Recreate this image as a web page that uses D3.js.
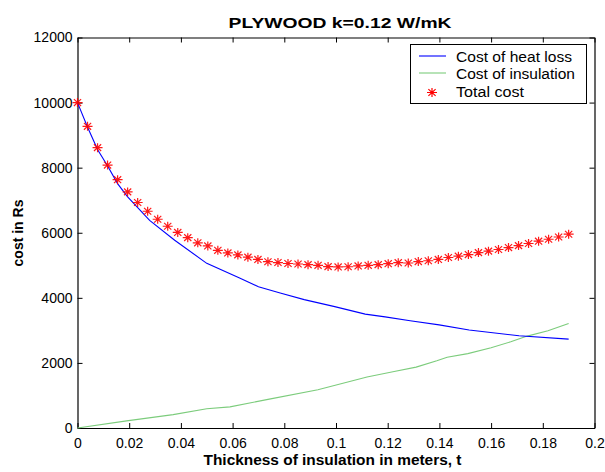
<!DOCTYPE html>
<html><head><meta charset="utf-8">
<script src="https://cdn.jsdelivr.net/npm/d3@7"></script>
<style>body{margin:0;background:#fff}svg{display:block}text{font-family:Arial,"Liberation Sans",sans-serif}</style>
</head><body><svg id="c" width="605" height="472"></svg>
<script>
// Total cost markers (t in meters, cost in Rs)
const tTotal = [0,0.00388,0.00776,0.01163,0.01551,0.01939,0.02327,0.02714,0.03102,0.0349,0.03878,0.04265,0.04653,0.05041,0.05429,0.05816,0.06204,0.06592,0.0698,0.07367,0.07755,0.08143,0.08531,0.08918,0.09306,0.09694,0.10082,0.10469,0.10857,0.11245,0.11633,0.1202,0.12408,0.12796,0.13184,0.13571,0.13959,0.14347,0.14735,0.15122,0.1551,0.15898,0.16286,0.16673,0.17061,0.17449,0.17837,0.18224,0.18612,0.19];
const totalCost = [10000,9270,8615,8080,7630,7255,6930,6660,6415,6200,6010,5850,5690,5595,5460,5380,5320,5250,5180,5110,5085,5055,5040,5020,5000,4960,4950,4955,4980,5000,5020,5050,5080,5070,5115,5140,5180,5240,5280,5330,5390,5435,5485,5545,5605,5670,5740,5800,5870,5955];
// Cost of heat loss
const tHeat = [0,0.0039,0.0078,0.0116,0.0155,0.0194,0.0279,0.0376,0.05,0.0627,0.07,0.0784,0.0877,0.0995,0.1113,0.119,0.1287,0.1399,0.1515,0.1708,0.19];
const heatCost = [10000,9240,8550,8060,7510,7100,6380,5770,5060,4610,4340,4150,3945,3730,3500,3416,3295,3170,3010,2833,2730];
// Cost of insulation
const tIns = [0,0.019,0.037,0.05,0.059,0.0737,0.093,0.112,0.1225,0.131,0.139,0.143,0.151,0.16,0.1676,0.174,0.182,0.19];
const insCost = [0,220,410,590,650,880,1175,1565,1735,1870,2065,2175,2285,2465,2649,2824,2987,3214];
// Ticks and labels
const xTicks = [0,0.02,0.04,0.06,0.08,0.1,0.12,0.14,0.16,0.18,0.2];
const yTicks = [0,2000,4000,6000,8000,10000,12000];
const legendLabels = ["Cost of heat loss","Cost of insulation","Total cost"];
const titleText = "PLYWOOD k=0.12 W/mK";
const xLabelText = "Thickness of insulation in meters, t";
const yLabelText = "cost in Rs";

const L = 77.5, R = 594.5, T = 37.5, B = 428;
const svg = d3.select("#c");
const x = d3.scaleLinear().domain([0,0.2]).range([L,R]);
const y = d3.scaleLinear().domain([0,12000]).range([B,T]);

// Axes (ticks inside, box on)
const fmt = d => d3.format("~g")(d);
const tickLen = 5;
const gxB = svg.append("g").attr("transform",`translate(0,${B})`)
  .call(d3.axisBottom(x).tickValues(xTicks).tickFormat(fmt).tickSizeInner(-tickLen).tickSizeOuter(0).tickPadding(10));
const gxT = svg.append("g").attr("transform",`translate(0,${T})`)
  .call(d3.axisTop(x).tickValues(xTicks).tickFormat("").tickSizeInner(-tickLen).tickSizeOuter(0));
const gyL = svg.append("g").attr("transform",`translate(${L},0)`)
  .call(d3.axisLeft(y).tickValues(yTicks).tickFormat(d=>d).tickSizeInner(-tickLen).tickSizeOuter(0).tickPadding(5));
const gyR = svg.append("g").attr("transform",`translate(${R},0)`)
  .call(d3.axisRight(y).tickValues(yTicks).tickFormat("").tickSizeInner(-tickLen).tickSizeOuter(0));
[gxB,gxT,gyL,gyR].forEach(g=>{
  g.select(".domain").attr("stroke","#000").attr("stroke-width",1.2);
  g.selectAll(".tick line").attr("stroke","#000");
  g.selectAll("text").attr("fill","#000").attr("font-size",14).attr("font-family","Arial, 'Liberation Sans', sans-serif");
});
gxB.selectAll("text").attr("dy","0.71em");

// Lines
const line = d3.line().x(d=>x(d[0])).y(d=>y(d[1]));
svg.append("path").datum(tIns.map((t,i)=>[t,insCost[i]]))
  .attr("d",line).attr("fill","none").attr("stroke","#7ccc7c").attr("stroke-width",1.1);
svg.append("path").datum(tHeat.map((t,i)=>[t,heatCost[i]]))
  .attr("d",line).attr("fill","none").attr("stroke","#0000ff").attr("stroke-width",1.1);

// Star markers
function starPath(cx,cy){
  const h=5, v=4.5, dx=3.6, dy=3.4;
  return `M${cx-h},${cy}L${cx+h},${cy}M${cx},${cy-v}L${cx},${cy+v}`+
         `M${cx-dx},${cy-dy}L${cx+dx},${cy+dy}M${cx-dx},${cy+dy}L${cx+dx},${cy-dy}`;
}
svg.append("g").selectAll("path").data(tTotal.map((t,i)=>[t,totalCost[i]])).join("path")
  .attr("d",d=>starPath(x(d[0]),y(d[1])))
  .attr("fill","none").attr("stroke","#ff0000").attr("stroke-width",1.2).attr("stroke-opacity",0.9);

// Title & labels
svg.append("text").attr("x",340).attr("y",27.5).attr("text-anchor","middle")
  .attr("font-size",15.5).attr("font-weight","bold").attr("textLength",223).attr("lengthAdjust","spacingAndGlyphs")
  .text(titleText);
svg.append("text").attr("x",332.5).attr("y",465).attr("text-anchor","middle")
  .attr("font-size",14).attr("font-weight","bold").attr("textLength",258).attr("lengthAdjust","spacingAndGlyphs")
  .text(xLabelText);
svg.append("text").attr("transform","translate(22.5,233) rotate(-90)").attr("text-anchor","middle")
  .attr("font-size",14).attr("font-weight","bold").text(yLabelText);

// Legend
const lg = svg.append("g");
lg.append("rect").attr("x",410.5).attr("y",44.5).attr("width",176).attr("height",59)
  .attr("fill","#fff").attr("stroke","#000").attr("stroke-width",1);
const ly = [56,73,91];
const lb = [61.7,79.3,96.7];
lg.append("line").attr("x1",419).attr("x2",446).attr("y1",ly[0]).attr("y2",ly[0]).attr("stroke","#0000ff").attr("stroke-width",1.1);
lg.append("line").attr("x1",419).attr("x2",446).attr("y1",ly[1]).attr("y2",ly[1]).attr("stroke","#7ccc7c").attr("stroke-width",1.1);
lg.append("path").attr("d",starPath(432,ly[2]+1.5)).attr("fill","none").attr("stroke","#ff0000").attr("stroke-width",1.2);
const widths=[116,119,68];
legendLabels.forEach((s,i)=>{
  lg.append("text").attr("x",456).attr("y",lb[i]).attr("font-size",14)
    .attr("textLength",widths[i]).attr("lengthAdjust","spacingAndGlyphs").text(s);
});
</script></body></html>
